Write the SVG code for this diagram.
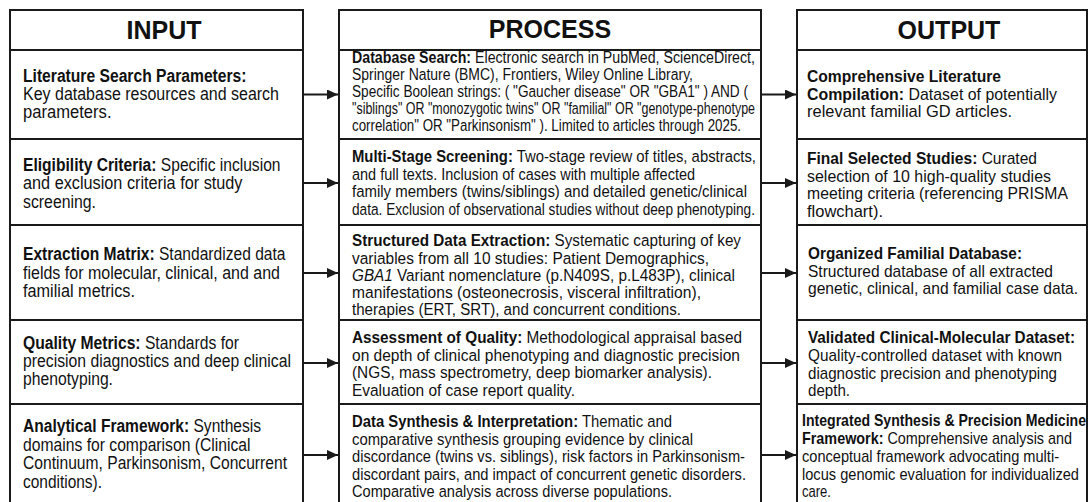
<svg xmlns="http://www.w3.org/2000/svg" width="1091" height="502" viewBox="0 0 1091 502">
<style>
.box{fill:#fff;stroke:#1a1a1a;stroke-width:2}
.hd{font-family:"Liberation Sans",Arial,sans-serif;font-weight:bold;font-size:25px;fill:#111;text-anchor:middle}
.t{font-family:"Liberation Sans",Arial,sans-serif;font-size:17.5px;fill:#111}
.o{font-family:"Liberation Sans",Arial,sans-serif;font-size:17px;fill:#111}
.p{font-family:"Liberation Sans",Arial,sans-serif;font-size:16.3px;fill:#111}
.b{font-weight:bold}
.i{font-style:italic}
.conn{stroke:#1a1a1a;stroke-width:2;fill:none;marker-end:url(#ah)}
</style>
<defs>
<marker id="ah" viewBox="0 0 11 10" refX="11" refY="5" markerWidth="11" markerHeight="10" markerUnits="userSpaceOnUse" orient="auto">
<path d="M0,0 L11,5 L0,10 z" fill="#1a1a1a"/>
</marker>
</defs>
<rect width="1091" height="502" fill="#fff"/>

<g id="input-header"><rect class="box" x="10" y="10" width="293" height="40"/><text class="hd" x="164" y="39">INPUT</text></g>
<g id="process-header"><rect class="box" x="339" y="10" width="422" height="40"/><text class="hd" x="550" y="38">PROCESS</text></g>
<g id="output-header"><rect class="box" x="797" y="10" width="290" height="40"/><text class="hd" x="949" y="39">OUTPUT</text></g>

<g id="in1"><rect class="box" x="10" y="50" width="293" height="89"/>
<text class="t b" x="23" y="82" textLength="223.5" lengthAdjust="spacingAndGlyphs">Literature Search Parameters:</text>
<text class="t" x="23" y="100" textLength="256" lengthAdjust="spacingAndGlyphs">Key database resources and search</text>
<text class="t" x="23" y="118" textLength="88.5" lengthAdjust="spacingAndGlyphs">parameters.</text></g>
<g id="in2"><rect class="box" x="10" y="139" width="293" height="86"/>
<text class="t" x="23" y="170.5" textLength="257.5" lengthAdjust="spacingAndGlyphs"><tspan class="b">Eligibility Criteria:</tspan> Specific inclusion</text>
<text class="t" x="23" y="189" textLength="219.5" lengthAdjust="spacingAndGlyphs">and exclusion criteria for study</text>
<text class="t" x="23" y="207.5" textLength="73" lengthAdjust="spacingAndGlyphs">screening.</text></g>
<g id="in3"><rect class="box" x="10" y="225" width="293" height="95"/>
<text class="t" x="23" y="260" textLength="262.5" lengthAdjust="spacingAndGlyphs"><tspan class="b">Extraction Matrix:</tspan> Standardized data</text>
<text class="t" x="23" y="278.5" textLength="257" lengthAdjust="spacingAndGlyphs">fields for molecular, clinical, and and</text>
<text class="t" x="23" y="297" textLength="112" lengthAdjust="spacingAndGlyphs">familial metrics.</text></g>
<g id="in4"><rect class="box" x="10" y="320" width="293" height="84"/>
<text class="t" x="23" y="348.5" textLength="216" lengthAdjust="spacingAndGlyphs"><tspan class="b">Quality Metrics:</tspan> Standards for</text>
<text class="t" x="23" y="366.5" textLength="268" lengthAdjust="spacingAndGlyphs">precision diagnostics and deep clinical</text>
<text class="t" x="23" y="384.5" textLength="90" lengthAdjust="spacingAndGlyphs">phenotyping.</text></g>
<g id="in5"><rect class="box" x="10" y="404" width="293" height="100"/>
<text class="t" x="23" y="432" textLength="238" lengthAdjust="spacingAndGlyphs"><tspan class="b">Analytical Framework:</tspan> Synthesis</text>
<text class="t" x="23" y="450.5" textLength="227.5" lengthAdjust="spacingAndGlyphs">domains for comparison (Clinical</text>
<text class="t" x="23" y="469" textLength="264" lengthAdjust="spacingAndGlyphs">Continuum, Parkinsonism, Concurrent</text>
<text class="t" x="23" y="487.5" textLength="79" lengthAdjust="spacingAndGlyphs">conditions).</text></g>

<g id="pr1"><rect class="box" x="339" y="50" width="422" height="89"/>
<text class="p" x="352" y="63" textLength="403" lengthAdjust="spacingAndGlyphs"><tspan class="b">Database Search:</tspan> Electronic search in PubMed, ScienceDirect,</text>
<text class="p" x="352" y="80" textLength="341" lengthAdjust="spacingAndGlyphs">Springer Nature (BMC), Frontiers, Wiley Online Library,</text>
<text class="p" x="352" y="97" textLength="396" lengthAdjust="spacingAndGlyphs">Specific Boolean strings: ( "Gaucher disease" OR "GBA1" ) AND (</text>
<text class="p" x="352" y="114" textLength="403" lengthAdjust="spacingAndGlyphs">"siblings" OR "monozygotic twins" OR "familial" OR "genotype-phenotype</text>
<text class="p" x="352" y="131" textLength="389" lengthAdjust="spacingAndGlyphs">correlation" OR "Parkinsonism" ). Limited to articles through 2025.</text></g>
<g id="pr2"><rect class="box" x="339" y="139" width="422" height="86"/>
<text class="p" x="352" y="162" textLength="404" lengthAdjust="spacingAndGlyphs"><tspan class="b">Multi-Stage Screening:</tspan> Two-stage review of titles, abstracts,</text>
<text class="p" x="352" y="179.5" textLength="343" lengthAdjust="spacingAndGlyphs">and full texts. Inclusion of cases with multiple affected</text>
<text class="p" x="352" y="197" textLength="395" lengthAdjust="spacingAndGlyphs">family members (twins/siblings) and detailed genetic/clinical</text>
<text class="p" x="352" y="214.5" textLength="403" lengthAdjust="spacingAndGlyphs">data. Exclusion of observational studies without deep phenotyping.</text></g>
<g id="pr3"><rect class="box" x="339" y="225" width="422" height="95"/>
<text class="p" x="352" y="246" textLength="389" lengthAdjust="spacingAndGlyphs"><tspan class="b">Structured Data Extraction:</tspan> Systematic capturing of key</text>
<text class="p" x="352" y="263.5" textLength="357" lengthAdjust="spacingAndGlyphs">variables from all 10 studies: Patient Demographics,</text>
<text class="p" x="352" y="281" textLength="383" lengthAdjust="spacingAndGlyphs"><tspan class="i">GBA1</tspan> Variant nomenclature (p.N409S, p.L483P), clinical</text>
<text class="p" x="352" y="298" textLength="349" lengthAdjust="spacingAndGlyphs">manifestations (osteonecrosis, visceral infiltration),</text>
<text class="p" x="352" y="315" textLength="329" lengthAdjust="spacingAndGlyphs">therapies (ERT, SRT), and concurrent conditions.</text></g>
<g id="pr4"><rect class="box" x="339" y="320" width="422" height="84"/>
<text class="p" x="352" y="343" textLength="390" lengthAdjust="spacingAndGlyphs"><tspan class="b">Assessment of Quality:</tspan> Methodological appraisal based</text>
<text class="p" x="352" y="360.5" textLength="388" lengthAdjust="spacingAndGlyphs">on depth of clinical phenotyping and diagnostic precision</text>
<text class="p" x="352" y="378" textLength="360" lengthAdjust="spacingAndGlyphs">(NGS, mass spectrometry, deep biomarker analysis).</text>
<text class="p" x="352" y="395.5" textLength="223" lengthAdjust="spacingAndGlyphs">Evaluation of case report quality.</text></g>
<g id="pr5"><rect class="box" x="339" y="404" width="422" height="100"/>
<text class="p" x="352" y="427" textLength="320" lengthAdjust="spacingAndGlyphs"><tspan class="b">Data Synthesis &amp; Interpretation:</tspan> Thematic and</text>
<text class="p" x="352" y="444.5" textLength="341" lengthAdjust="spacingAndGlyphs">comparative synthesis grouping evidence by clinical</text>
<text class="p" x="352" y="462" textLength="393" lengthAdjust="spacingAndGlyphs">discordance (twins vs. siblings), risk factors in Parkinsonism-</text>
<text class="p" x="352" y="479.5" textLength="394" lengthAdjust="spacingAndGlyphs">discordant pairs, and impact of concurrent genetic disorders.</text>
<text class="p" x="352" y="497" textLength="320" lengthAdjust="spacingAndGlyphs">Comparative analysis across diverse populations.</text></g>

<g id="out1"><rect class="box" x="797" y="50" width="290" height="89"/>
<text class="o b" x="807" y="82" textLength="194" lengthAdjust="spacingAndGlyphs">Comprehensive Literature</text>
<text class="o" x="807" y="99.5" textLength="250" lengthAdjust="spacingAndGlyphs"><tspan class="b">Compilation:</tspan> Dataset of potentially</text>
<text class="o" x="807" y="117" textLength="205" lengthAdjust="spacingAndGlyphs">relevant familial GD articles.</text></g>
<g id="out2"><rect class="box" x="797" y="139" width="290" height="86"/>
<text class="o" x="807" y="164" textLength="230" lengthAdjust="spacingAndGlyphs"><tspan class="b">Final Selected Studies:</tspan> Curated</text>
<text class="o" x="807" y="181.5" textLength="244" lengthAdjust="spacingAndGlyphs">selection of 10 high-quality studies</text>
<text class="o" x="807" y="199" textLength="261" lengthAdjust="spacingAndGlyphs">meeting criteria (referencing PRISMA</text>
<text class="o" x="807" y="216.5" textLength="76" lengthAdjust="spacingAndGlyphs">flowchart).</text></g>
<g id="out3"><rect class="box" x="797" y="225" width="290" height="95"/>
<text class="o b" x="808" y="259" textLength="214" lengthAdjust="spacingAndGlyphs">Organized Familial Database:</text>
<text class="o" x="808" y="276.5" textLength="245" lengthAdjust="spacingAndGlyphs">Structured database of all extracted</text>
<text class="o" x="808" y="294" textLength="270" lengthAdjust="spacingAndGlyphs">genetic, clinical, and familial case data.</text></g>
<g id="out4"><rect class="box" x="797" y="320" width="290" height="84"/>
<text class="o b" x="808" y="343" textLength="267" lengthAdjust="spacingAndGlyphs">Validated Clinical-Molecular Dataset:</text>
<text class="o" x="808" y="361" textLength="254" lengthAdjust="spacingAndGlyphs">Quality-controlled dataset with known</text>
<text class="o" x="808" y="378.5" textLength="249" lengthAdjust="spacingAndGlyphs">diagnostic precision and phenotyping</text>
<text class="o" x="808" y="396" textLength="42" lengthAdjust="spacingAndGlyphs">depth.</text></g>
<g id="out5"><rect class="box" x="797" y="404" width="290" height="100"/>
<text class="o b" x="802" y="426" textLength="284" lengthAdjust="spacingAndGlyphs">Integrated Synthesis &amp; Precision Medicine</text>
<text class="o" x="802" y="444" textLength="270" lengthAdjust="spacingAndGlyphs"><tspan class="b">Framework:</tspan> Comprehensive analysis and</text>
<text class="o" x="802" y="462" textLength="257" lengthAdjust="spacingAndGlyphs">conceptual framework advocating multi-</text>
<text class="o" x="802" y="479.5" textLength="277" lengthAdjust="spacingAndGlyphs">locus genomic evaluation for individualized</text>
<text class="o" x="802" y="497" textLength="29" lengthAdjust="spacingAndGlyphs">care.</text></g>

<g id="connectors">
<line class="conn" x1="303" y1="94.5" x2="338" y2="94.5"/>
<line class="conn" x1="303" y1="183" x2="338" y2="183"/>
<line class="conn" x1="303" y1="273" x2="338" y2="273"/>
<line class="conn" x1="303" y1="363" x2="338" y2="363"/>
<line class="conn" x1="303" y1="455" x2="338" y2="455"/>
<line class="conn" x1="761" y1="94.5" x2="796" y2="94.5"/>
<line class="conn" x1="761" y1="183" x2="796" y2="183"/>
<line class="conn" x1="761" y1="273" x2="796" y2="273"/>
<line class="conn" x1="761" y1="363" x2="796" y2="363"/>
<line class="conn" x1="761" y1="455" x2="796" y2="455"/>
</g>
</svg>
